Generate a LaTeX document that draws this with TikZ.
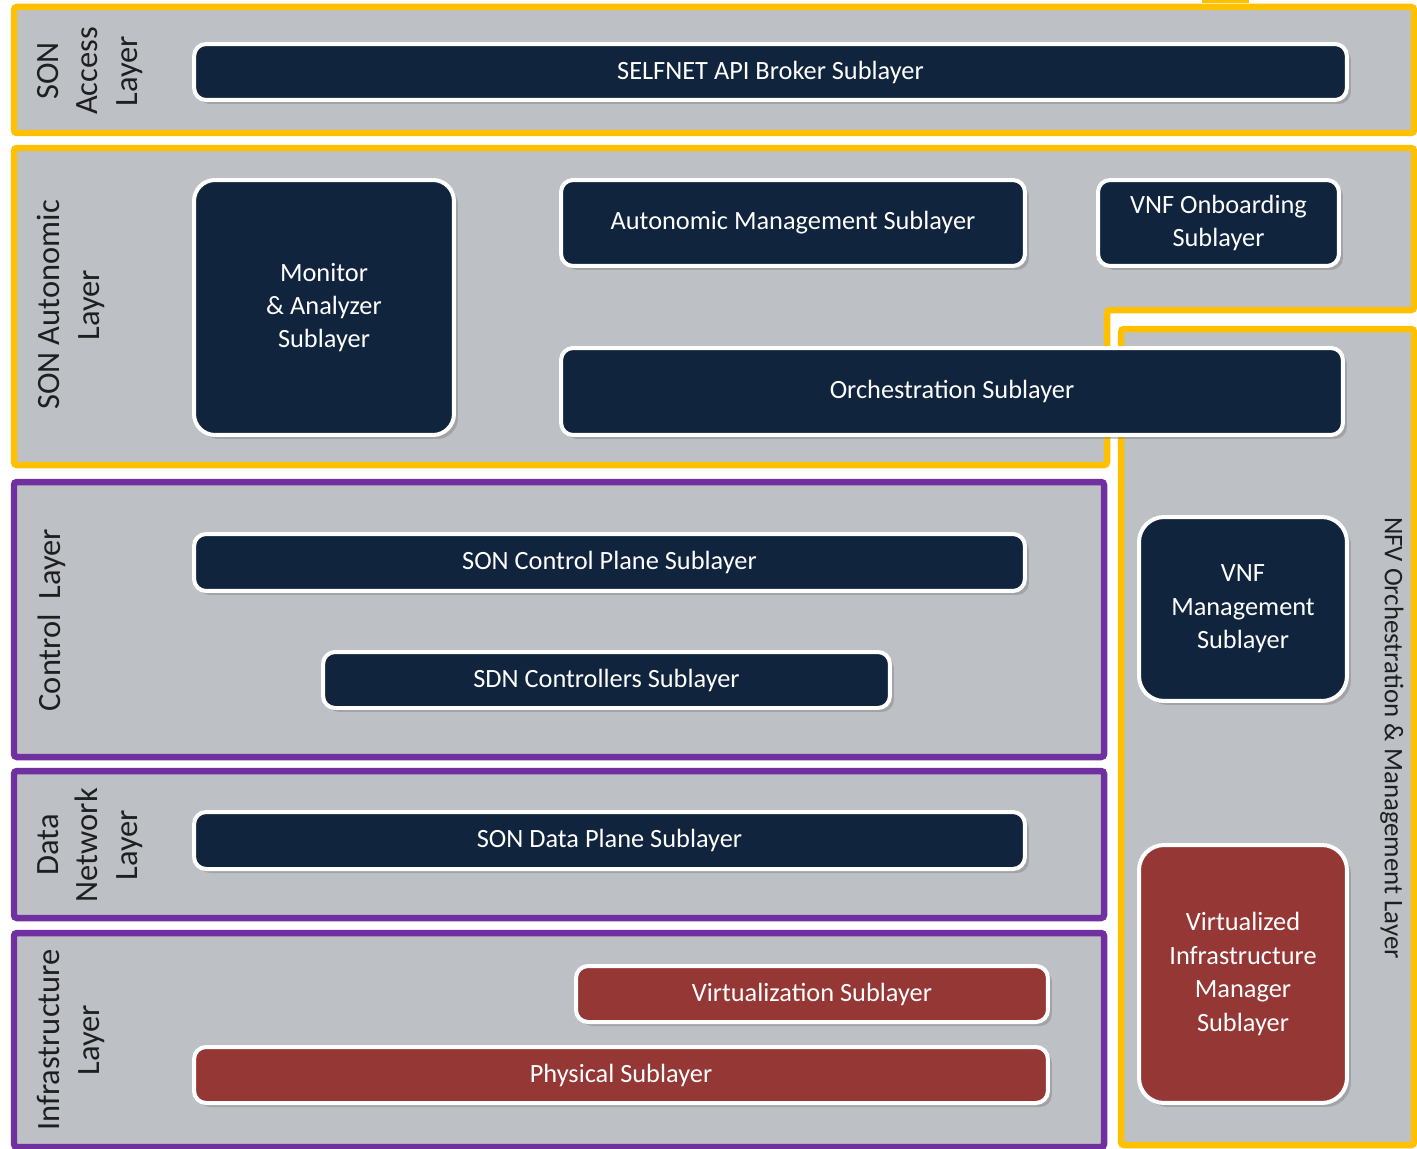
\documentclass[tikz,border=0pt]{standalone}
\usepackage{fontspec}
\setmainfont{Carlito}
\usetikzlibrary{shadows}
\definecolor{navy}{HTML}{10243E}
\definecolor{brick}{HTML}{953735}
\definecolor{amber}{HTML}{FFC000}
\definecolor{violet}{HTML}{7030A0}
\definecolor{panel}{HTML}{BDC1C6}
\begin{document}
\begin{tikzpicture}[x=0.02cm,y=-0.02cm,
  layerframe/.style={fill=panel, line width=0.13cm, rounded corners=0.06cm,
    drop shadow={shadow xshift=0.05cm,shadow yshift=-0.05cm,opacity=0.3}},
  sonframe/.style={layerframe, draw=amber},
  netframe/.style={layerframe, draw=violet},
  sublayer/.style={draw=white, line width=0.08cm, rounded corners=0.24cm,
    inner sep=0pt, text=white, align=center,
    font=\fontsize{15}{19}\selectfont,
    drop shadow={shadow xshift=0.08cm, shadow yshift=-0.08cm, opacity=0.45}},
  darkbox/.style={sublayer, fill=navy},
  redbox/.style={sublayer, fill=brick},
  layername/.style={text=black!88, align=center, inner sep=0pt,
    font=\fontsize{18.5}{22.5}\selectfont}
]
\useasboundingbox[fill=white] (0,0) rectangle (1417,1149);

% top marker
\fill[amber] (1202,0) rectangle (1249,3);

% layer frames
\draw[sonframe] (14,7) rectangle (1414,133);
\draw[sonframe] (14,148) -- (1414,148) -- (1414,310) -- (1107,310)
  -- (1107,465) -- (14,465) -- cycle;
\draw[sonframe] (1121,329) rectangle (1414,1145);
\draw[netframe] (14,482) rectangle (1104,757);
\draw[netframe] (14,771) rectangle (1104,918);
\draw[netframe] (14,933) rectangle (1104,1147);

% layer names
\node[layername, rotate=90] (accessname) at (90,71) {SON\\Access\\Layer};
\node[layername, rotate=90] (autoname) at (71,305) {SON Autonomic\\Layer};
\node[layername, rotate=90] (ctrlname) at (52,620) {Control\ \ Layer};
\node[layername, rotate=90] (dataname) at (90,845) {Data\\Network\\Layer};
\node[layername, rotate=90] (infraname) at (71,1040) {Infrastructure\\Layer};
\node[layername, rotate=-90, font=\fontsize{15.3}{18}\selectfont] (nfvname)
  at (1392,738) {NFV Orchestration \& Management Layer};

% sublayers
\node[darkbox, minimum width=23.06cm, minimum height=1.12cm] (broker)
  at (770.5,72) {SELFNET API Broker Sublayer};
\node[darkbox, rounded corners=0.42cm, minimum width=5.2cm, minimum height=5.1cm]
  (monitor) at (324,307.5) {Monitor\\\& Analyzer\\Sublayer};
\node[darkbox, minimum width=9.28cm, minimum height=1.72cm] (automgmt)
  at (793,223) {Autonomic Management Sublayer};
\node[darkbox, minimum width=4.82cm, minimum height=1.72cm] (onboard)
  at (1218.5,223) {VNF Onboarding\\Sublayer};
\node[darkbox, minimum width=15.64cm, minimum height=1.74cm] (orch)
  at (952,391.5) {Orchestration Sublayer};
\node[darkbox, minimum width=16.62cm, minimum height=1.14cm] (ctrlplane)
  at (609.5,562.5) {SON Control Plane Sublayer};
\node[darkbox, minimum width=11.34cm, minimum height=1.12cm] (sdn)
  at (606.5,680) {SDN Controllers Sublayer};
\node[darkbox, minimum width=16.62cm, minimum height=1.14cm] (dataplane)
  at (609.5,840.5) {SON Data Plane Sublayer};
\node[redbox, minimum width=9.44cm, minimum height=1.12cm] (virt)
  at (812,994) {Virtualization Sublayer};
\node[redbox, minimum width=17.08cm, minimum height=1.12cm] (phys)
  at (621,1075) {Physical Sublayer};
\node[darkbox, rounded corners=0.5cm, minimum width=4.16cm, minimum height=3.68cm]
  (vnfm) at (1243,609) {VNF\\Management\\Sublayer};
\node[redbox, rounded corners=0.5cm, minimum width=4.16cm, minimum height=5.16cm]
  (vim) at (1243,974) {Virtualized\\Infrastructure\\Manager\\Sublayer};
\end{tikzpicture}
\end{document}
